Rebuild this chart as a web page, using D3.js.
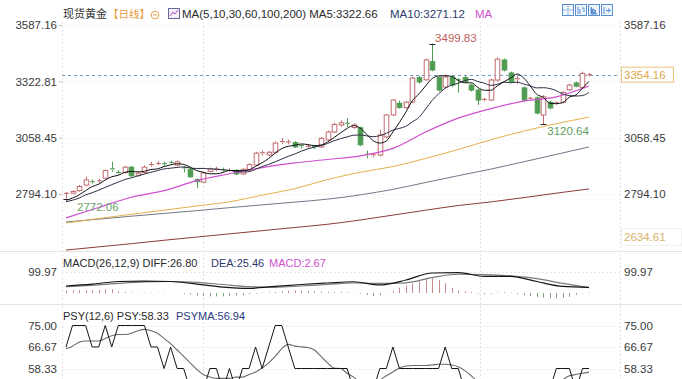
<!DOCTYPE html>
<html><head><meta charset="utf-8">
<script src="https://cdn.jsdelivr.net/npm/d3@7"></script>
<style>
html,body{margin:0;padding:0;background:#fff;}
svg{display:block;}
text{font-family:"Liberation Sans",Arial,"Noto Sans CJK SC",sans-serif;}
</style></head><body>
<svg id="c" width="682" height="379"></svg>
<script>
// ---------- DATA ----------
const opens  = [2794,2798,2810,2836,2852,2853,2868,2912,2895,2895,2920,2882,2895,2928,2935,2937,2942,2930,2917,2910,2862,2850,2900,2909,2907,2902,2905,2888,2908,2930,2983,2977,2990,3035,3037,3035,3021,3016,3017,3015,3048,3085,3118,3126,3106,3105,2980,2972,2977,3062,3165,3220,3200,3226,3340,3330,3415,3340,3296,3343,3330,3340,3305,3282,3235,3235,3329,3423,3362,3330,3292,3240,3245,3165,3225,3218,3225,3283,3315,3293,3350];
const highs  = [2803,2812,2836,2875,2862,2866,2910,2945,2905,2926,2925,2898,2928,2945,2948,2946,2950,2952,2925,2915,2868,2898,2918,2922,2918,2915,2910,2915,2938,2992,2998,2996,3040,3057,3050,3042,3030,3028,3025,3060,3092,3128,3140,3150,3125,3110,2998,2985,3095,3170,3240,3232,3230,3345,3348,3430,3499.83,3345,3355,3352,3338,3348,3312,3288,3245,3335,3434,3430,3368,3350,3298,3250,3252,3258,3232,3228,3276,3312,3322,3368,3362];
const lows   = [2772.06,2792,2805,2830,2842,2846,2862,2898,2885,2890,2872,2875,2890,2922,2928,2926,2930,2925,2895,2870,2822,2845,2895,2900,2898,2896,2882,2884,2904,2926,2975,2972,2985,3028,3028,3010,3008,3008,3005,3010,3042,3080,3110,3108,3100,3020,2962,2965,2970,3055,3160,3195,3195,3220,3312,3325,3370,3275,3290,3295,3270,3315,3275,3212,3228,3230,3322,3370,3315,3310,3228,3232,3168,3120.64,3192,3212,3220,3278,3295,3288,3345];
const closes = [2797,2806,2830,2860,2850,2856,2904,2905,2893,2920,2880,2892,2920,2932,2937,2933,2935,2945,2913,2875,2852,2893,2912,2911,2905,2904,2888,2910,2932,2986,2988,2990,3033,3040,3038,3015,3018,3018,3015,3055,3085,3120,3128,3122,3118,3025,2975,2978,3071,3165,3235,3200,3225,3338,3320,3423,3376,3282,3343,3306,3326,3322,3282,3235,3238,3329,3427,3376,3320,3335,3235,3244,3174,3250,3198,3222,3270,3305,3300,3360,3354.16];

const ma5  = [2765,2775,2790,2810,2829,2840,2860,2875,2882,2896,2900,2898,2901,2909,2912,2923,2931,2936,2933,2920,2904,2896,2889,2889,2895,2905,2904,2904,2908,2924,2941,2961,2986,3007,3018,3023,3029,3026,3021,3024,3038,3059,3081,3102,3115,3103,3074,3044,3033,3043,3085,3130,3179,3233,3264,3301,3336,3348,3349,3346,3327,3316,3316,3294,3281,3281,3302,3321,3338,3357,3339,3302,3262,3248,3220,3218,3223,3249,3259,3291,3322.66];
const ma10 = [2758,2765,2775,2790,2800,2812,2825,2838,2850,2862,2870,2879,2888,2896,2904,2912,2915,2919,2921,2916,2914,2914,2912,2911,2908,2905,2900,2897,2899,2910,2923,2933,2945,2958,2971,2982,2995,3006,3014,3021,3031,3044,3054,3062,3070,3071,3067,3063,3068,3079,3094,3102,3112,3133,3154,3193,3233,3264,3291,3305,3314,3326,3332,3322,3314,3304,3309,3319,3316,3319,3310,3302,3292,3293,3289,3279,3263,3256,3254,3256,3271.12];

const maIdx = [0,5,10,15,20,25,30,35,40,45,50,55,60,65,70,75,80];
const ma30  = [2682,2731,2779,2810,2857,2889,2918,2940,2956,2973,3008,3085,3150,3195,3230,3250,3301];
const ma60  = [2658,2679,2699,2718,2738,2757,2789,2819,2862,2896,2923,2961,3003,3049,3089,3124,3155];
const ma100 = [2663,2676,2690,2703,2716,2730,2743,2756,2770,2790,2816,2848,2880,2911,2945,2980,3015];
const ma200 = [2531,2546,2561,2577,2592,2607,2622,2637,2652,2672,2695,2718,2740,2757,2777,2798,2818];

const macdIdx = [0,4,8,12,16,20,24,28,32,36,40,44,48,52,56,60,64,68,72,76,80];
const diff = [33,42,54,56,54,42,28,22,31,40,47,53,38,61,94,96,78,78,54,31,26.80];
const dea  = [30,36,45,52,54,50,40,30,27,33,40,47,45,48,72,88,86,80,68,45,25.46];
const macdHist = [12,13,14,14,14,15,18,18, 8,5,3,2,2,2,2,2,1,1, -4,-8,-12,-14,-16,-16,-15,-14,-12,-10, -5,-3,2,3, 5,8,10,12,12,10,8,6,5,4, 6,4,2,-3, -10,-14,-10,2, 10,25,35,45,55,68,70,60,45,25,12, 8,5,-3,-5,-4,3,4,2, -5,-10,-14,-18,-22,-25,-25,-22,-18,-8,-3,2.67];

const psy = [66.67,75,75,75,66.67,66.67,75,66.67,75,75,75,75,75,66.67,66.67,58.33,66.67,58.33,58.33,50,50,50,58.33,58.33,50,58.33,50,58.33,58.33,66.67,58.33,66.67,75,75,66.67,58.33,
  58.33,58.33,58.33,58.33,58.33,58.33,58.33,58.33, 50,50,50,50, 58.33,58.33,66.67,58.33, 58.33,58.33,58.33,58.33,58.33,58.33, 66.67,58.33,58.33,
  50,41.67,41.67,41.67,50,50,41.67,41.67,41.67,41.67,41.67,41.67, 50,50,58.33,58.33,58.33,50,58.33,58.33];
const psyma = [66,67,68.5,69,69,69,70,71,71.5,71.5,72,73,73.5,73,72,70,68,65.5,63,60.5,58,56,55,54.5,54.5,54.5,55,55,56,57,58.5,60.5,63,66,67.7,67,66.7,66.5,65.5,63,60.5,58.5,58.3,56.5,55,53,52,53,54,55.5,57,58.5,59.3,59.5,59.5,59.5,59.7,60,60,59.7,59,57.5,55.5,53,50,47,45,44,43.5,43,43,43.5,45,47,50,52,54,55.5,56,56.5,56.94];

const priceTicks = [2794.10, 3058.45, 3322.81, 3587.16];
const priceTicksRight = [2794.10, 3058.45, 3587.16];
const macdTicks = [99.97];
const psyTicks = [58.33, 66.67, 75.00];
const lastPrice = 3354.16, panelLow = 2634.61;
const maxPt = {i:56, v:3499.83}, minPt1 = {i:73, v:3120.64}, minPt2 = {i:0, v:2772.06};

// ---------- SCALES ----------
const svg = d3.select('#c');
const L = 62, R = 620;
const x = d3.scaleLinear().domain([0, 80]).range([66, 589]);
const yP = d3.scaleLinear().domain([2794.10, 3587.16]).range([194, 25]);
const yM = d3.scaleLinear().domain([-42, 108]).range([302, 270]);
const yS = d3.scaleLinear().domain([58.33, 75]).range([368.5, 325.5]);

const FS = '11.5px';
const defs = svg.append('defs');
defs.append('clipPath').attr('id','cp').append('rect').attr('x',L).attr('y',20).attr('width',R-L).attr('height',231);
defs.append('clipPath').attr('id','cm').append('rect').attr('x',L).attr('y',252).attr('width',R-L).attr('height',52);
defs.append('clipPath').attr('id','cs').append('rect').attr('x',L).attr('y',305).attr('width',R-L).attr('height',80);

// ---------- GRID / FRAMES ----------
const grid = svg.append('g');
[L, 203, 480, R].forEach(gx => {
  grid.append('line').attr('x1',gx+0.5).attr('x2',gx+0.5).attr('y1',22).attr('y2',379)
    .attr('stroke','#e4e4e4').attr('stroke-dasharray','2,2');
});
priceTicks.forEach(v => grid.append('line').attr('x1',L).attr('x2',R).attr('y1',Math.round(yP(v))+0.5).attr('y2',Math.round(yP(v))+0.5)
  .attr('stroke','#efefef').attr('stroke-dasharray','2,2'));
macdTicks.forEach(v => grid.append('line').attr('x1',L).attr('x2',R).attr('y1',Math.round(yM(v))+0.5).attr('y2',Math.round(yM(v))+0.5)
  .attr('stroke','#e6e6e6').attr('stroke-dasharray','2,2'));
psyTicks.forEach(v => grid.append('line').attr('x1',L).attr('x2',R).attr('y1',Math.round(yS(v))+0.5).attr('y2',Math.round(yS(v))+0.5)
  .attr('stroke','#ececec').attr('stroke-dasharray','2,2'));
grid.append('line').attr('x1',0).attr('x2',682).attr('y1',251.5).attr('y2',251.5).attr('stroke','#e3e3e3');
grid.append('line').attr('x1',0).attr('x2',682).attr('y1',304.5).attr('y2',304.5).attr('stroke','#e3e3e3');
grid.append('rect').attr('x',R+1.5).attr('y',228.5).attr('width',60).attr('height',17).attr('fill','none').attr('stroke','#f0f0f0');

// current price dashed line
svg.append('line').attr('x1',L).attr('x2',R).attr('y1',Math.round(yP(lastPrice))+0.5).attr('y2',Math.round(yP(lastPrice))+0.5)
  .attr('stroke','#6f9cc6').attr('stroke-dasharray','3,3');

// ---------- CANDLES ----------
const UP = '#c26b6e', DN = '#4f9b52';
const cg = svg.append('g').attr('clip-path','url(#cp)');
const bw = 4.6;
closes.forEach((c, i) => {
  const o = opens[i], up = c >= o, col = up ? UP : DN;
  const cx = Math.round(x(i)) + 0.5;
  const top = yP(Math.max(o, c)), bot = yP(Math.min(o, c));
  const hgt = Math.max(1, bot - top);
  cg.append('line').attr('x1',cx).attr('x2',cx).attr('y1',yP(highs[i])).attr('y2',top).attr('stroke',col);
  cg.append('line').attr('x1',cx).attr('x2',cx).attr('y1',top+hgt).attr('y2',yP(lows[i])).attr('stroke',col);
  if (hgt <= 1.5) {
    cg.append('line').attr('x1',cx-bw/2).attr('x2',cx+bw/2).attr('y1',top).attr('y2',top).attr('stroke',col).attr('stroke-width',1.2);
  } else {
    cg.append('rect').attr('x',cx-bw/2).attr('y',top).attr('width',bw).attr('height',hgt)
      .attr('fill', up ? '#fff' : DN).attr('stroke',col).attr('stroke-width',1);
  }
});

// ---------- MA LINES ----------
const mg = svg.append('g').attr('clip-path','url(#cp)');
const lineAll = d3.line().x((d,i)=>x(i)).y(d=>yP(d)).curve(d3.curveMonotoneX);
const lineIdx = d3.line().x(d=>x(d[0])).y(d=>yP(d[1])).curve(d3.curveMonotoneX);
const pairs = arr => maIdx.map((k,j)=>[k,arr[j]]);
mg.append('path').attr('d',lineIdx(pairs(ma200))).attr('fill','none').attr('stroke','#8a3b3d').attr('stroke-width',1);
mg.append('path').attr('d',lineIdx(pairs(ma100))).attr('fill','none').attr('stroke','#6e7a88').attr('stroke-width',1);
mg.append('path').attr('d',lineIdx(pairs(ma60))).attr('fill','none').attr('stroke','#e6b04c').attr('stroke-width',1);
mg.append('path').attr('d',lineIdx(pairs(ma30))).attr('fill','none').attr('stroke','#d04fd0').attr('stroke-width',1.2);
mg.append('path').attr('d',lineAll(ma10)).attr('fill','none').attr('stroke','#2c2f45').attr('stroke-width',1);
mg.append('path').attr('d',lineAll(ma5)).attr('fill','none').attr('stroke','#111').attr('stroke-width',1);

// extreme markers
const mk = svg.append('g');
[maxPt, minPt1, minPt2].forEach(p=>{
  const px = Math.round(x(p.i))+0.5, py = Math.round(yP(p.v))+0.5;
  mk.append('line').attr('x1',px-3).attr('x2',px+3).attr('y1',py).attr('y2',py).attr('stroke','#222');
});
mk.append('text').attr('x',x(maxPt.i)+3).attr('y',yP(maxPt.v)-6).attr('dominant-baseline','central')
  .attr('font-size','11.5px').attr('fill','#c0605c').text(maxPt.v.toFixed(2));
mk.append('text').attr('x',x(minPt1.i)+4).attr('y',yP(minPt1.v)+7).attr('dominant-baseline','central')
  .attr('font-size','11.5px').attr('fill','#5d9e5d').text(minPt1.v.toFixed(2));
mk.append('text').attr('x',x(minPt2.i)+11).attr('y',yP(minPt2.v)+8).attr('dominant-baseline','central')
  .attr('font-size','11.5px').attr('fill','#6aa46a').text(minPt2.v.toFixed(2));

// ---------- MACD ----------
const gm = svg.append('g').attr('clip-path','url(#cm)');
macdHist.forEach((v,i)=>{
  const cx = Math.round(x(i))+0.5;
  gm.append('line').attr('x1',cx).attr('x2',cx).attr('y1',yM(0)).attr('y2',yM(v))
    .attr('stroke', v>=0 ? '#c58b8b' : '#7fa47f').attr('stroke-width',1);
});
const lineM = d3.line().x(d=>x(d[0])).y(d=>yM(d[1])).curve(d3.curveMonotoneX);
gm.append('path').attr('d',lineM(macdIdx.map((k,j)=>[k,dea[j]]))).attr('fill','none').attr('stroke','#7a7a7a').attr('stroke-width',1.2);
gm.append('path').attr('d',lineM(macdIdx.map((k,j)=>[k,diff[j]]))).attr('fill','none').attr('stroke','#151515').attr('stroke-width',1.2);

// ---------- PSY ----------
const gs = svg.append('g').attr('clip-path','url(#cs)');
gs.append('path').attr('d',d3.line().x((d,i)=>x(i)).y(d=>yS(d)).curve(d3.curveMonotoneX)(psyma)).attr('fill','none').attr('stroke','#6a6a6a').attr('stroke-width',1.1);
gs.append('path').attr('d',d3.line().x((d,i)=>x(i)).y(d=>yS(d))(psy)).attr('fill','none').attr('stroke','#151515').attr('stroke-width',1);

// ---------- AXES ----------
function styleAxis(g, color){
  g.select('.domain').remove();
  g.selectAll('text').attr('font-size',FS).attr('fill',color||'#3a3a3a').attr('font-family','"Liberation Sans",Arial,sans-serif');
  g.selectAll('line').attr('stroke','#bbb');
}
const f2 = d3.format('.2f');
svg.append('g').attr('transform',`translate(${L},0)`).call(d3.axisLeft(yP).tickValues(priceTicks).tickFormat(f2).tickSize(3).tickPadding(2)).call(styleAxis);
svg.append('g').attr('transform',`translate(${R},0)`).call(d3.axisRight(yP).tickValues(priceTicksRight).tickFormat(f2).tickSize(0).tickPadding(4)).call(styleAxis);
svg.append('g').attr('transform',`translate(${L},0)`).call(d3.axisLeft(yM).tickValues(macdTicks).tickFormat(f2).tickSize(0).tickPadding(5)).call(styleAxis);
svg.append('g').attr('transform',`translate(${R},0)`).call(d3.axisRight(yM).tickValues(macdTicks).tickFormat(f2).tickSize(0).tickPadding(4)).call(styleAxis);
svg.append('g').attr('transform',`translate(${L},0)`).call(d3.axisLeft(yS).tickValues(psyTicks).tickFormat(f2).tickSize(0).tickPadding(5)).call(styleAxis);
svg.append('g').attr('transform',`translate(${R},0)`).call(d3.axisRight(yS).tickValues(psyTicks).tickFormat(f2).tickSize(0).tickPadding(4)).call(styleAxis);

// right price tag
const ly = yP(lastPrice);
svg.append('rect').attr('x',R+1.5).attr('y',ly-7.5).attr('width',52).attr('height',15).attr('fill','#fff').attr('stroke','#ebc27a');
svg.append('text').attr('x',R+4).attr('y',ly+0.5).attr('dominant-baseline','central').attr('font-size',FS).attr('fill','#e0a84a').text(f2(lastPrice));
svg.append('text').attr('x',R+4).attr('y',237).attr('dominant-baseline','central').attr('font-size',FS).attr('fill','#d9b36a').text(f2(panelLow));

// ---------- TITLES ----------
const T = svg.append('g').attr('font-size',FS);
function tx(xp, yp, s, col, fam, fs){
  const t = T.append('text').attr('x',xp).attr('y',yp).attr('dominant-baseline','central').attr('fill',col).text(s);
  if (fam) t.attr('font-family',fam);
  if (fs) t.attr('font-size',fs);
  return t;
}
tx(63, 14, '现货黄金', '#333', '"Noto Sans CJK SC",sans-serif', '11px');
tx(108, 14, '【日线】', '#e39b3d', '"Noto Sans CJK SC",sans-serif', '10.5px');
svg.append('circle').attr('cx',155).attr('cy',15).attr('r',3.8).attr('fill','none').attr('stroke','#e6a24a');
svg.append('line').attr('x1',153).attr('x2',157).attr('y1',15).attr('y2',15).attr('stroke','#e6a24a');
svg.append('rect').attr('x',168.5).attr('y',8.5).attr('width',11).attr('height',10).attr('fill','#f4f0fa').attr('stroke','#6a6a9a');
svg.append('path').attr('d','M170,16 L173,12 L175,14 L178,10').attr('fill','none').attr('stroke','#c050c0');
tx(182, 14, 'MA(5,10,30,60,100,200) MA5:3322.66', '#2a2a2a');
tx(390, 14, 'MA10:3271.12', '#2c3a6e');
tx(475, 14, 'MA', '#d050d0');

// top-right tool icons
[562, 575, 588, 601].forEach((ix, k) => {
  const g = svg.append('g');
  g.append('rect').attr('x',ix+0.5).attr('y',4.5).attr('width',11).attr('height',11).attr('fill','#eef4fb').attr('stroke','#5b8fcf');
  if (k===0){
    g.append('path').attr('d',`M${ix+6},6 V15 M${ix+1.5},10 H${ix+10.5}`).attr('stroke','#5b8fcf').attr('stroke-dasharray','1,1');
  } else if (k===1){
    g.append('path').attr('d',`M${ix+3},7 V14 M${ix+5},9 V14 M${ix+7},8 H${ix+9} V12`).attr('stroke','#5b8fcf').attr('fill','none');
  } else if (k===2){
    g.append('path').attr('d',`M${ix+3},7 V14 H${ix+9} M${ix+5},9 L${ix+8},11 L${ix+5},13 Z`).attr('stroke','#5b8fcf').attr('fill','#5b8fcf');
  } else {
    g.append('path').attr('d',`M${ix+3},7 V14 M${ix+5},10.5 H${ix+9} M${ix+7},8.5 L${ix+9.5},10.5 L${ix+7},12.5`).attr('stroke','#5b8fcf').attr('fill','none');
  }
});

tx(63, 263, 'MACD(26,12,9) DIFF:26.80', '#2a2a2a', null, '11px');
tx(211, 263, 'DEA:25.46', '#2c3a6e', null, '11px');
tx(269, 263, 'MACD:2.67', '#d050d0', null, '11px');

tx(63, 316, 'PSY(12,6) PSY:58.33', '#2a2a2a', null, '11px');
tx(176, 316, 'PSYMA:56.94', '#2c3a7e', null, '11px');
</script>
</body></html>
